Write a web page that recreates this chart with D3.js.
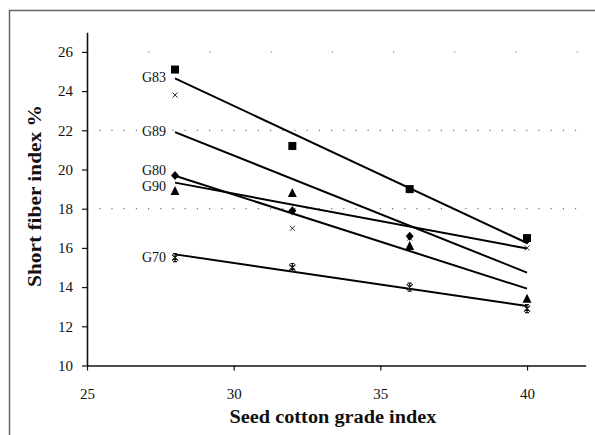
<!DOCTYPE html>
<html><head><meta charset="utf-8">
<script src="https://cdn.jsdelivr.net/npm/d3@7"></script>
<style>
html,body{margin:0;padding:0;background:#fff;}
svg{display:block;}
svg text{font-family:"Liberation Serif","Times New Roman",Tinos,serif !important;}
</style></head>
<body>
<svg id="chart" width="595" height="435"></svg>
<script>
// ---- data ----
const xValues = [28, 32, 36, 40];
const seriesNames = ["G83", "G89", "G80", "G90", "G70"];
const g83 = [25.1, 21.2, 19.0, 16.5];
const g89 = [23.8, 17.0, 16.5, 16.0];
const g80 = [18.9, 18.8, 16.1, 13.4];
const g90 = [19.7, 17.9, 16.6, 16.4];
const g70 = [15.5, 15.0, 14.0, 12.9];
const xTicks = [25, 30, 35, 40];
const yTicks = [10, 12, 14, 16, 18, 20, 22, 24, 26];
const xTitle = "Seed cotton grade index";
const yTitle = "Short fiber index %";

const seriesValues = [g83, g89, g80, g90, g70];
const markerTypes = ["square", "cross", "triangle", "diamond", "star"];
const labelDy = [4, 4, -1, 8, 8];

const svg = d3.select("#chart");

// outer frame
svg.append("path").attr("d", "M9.5,436 L9.5,10.5 L596,10.5")
  .attr("fill", "none").attr("stroke", "#666").attr("stroke-width", 1.5);

const x = d3.scaleLinear().domain([25, 42]).range([87, 585.7]);
const y = d3.scaleLinear().domain([10, 27]).range([365.5, 32.3]);

// faint dotted gridlines
[18, 22].forEach(v => {
  svg.append("line").attr("x1", x(25)).attr("x2", x(42)).attr("y1", y(v)).attr("y2", y(v))
    .attr("stroke", "#555").attr("stroke-width", 1).attr("stroke-dasharray", "1.2,11");
});
svg.append("line").attr("x1", x(25)).attr("x2", x(42)).attr("y1", y(26)).attr("y2", y(26))
  .attr("stroke", "#777").attr("stroke-width", 1).attr("stroke-dasharray", "1.2,60");

// axes
const xAxis = svg.append("g").attr("transform", `translate(0,${y(10)})`)
  .call(d3.axisBottom(x).tickValues(xTicks).tickSize(5).tickPadding(18).tickSizeOuter(0));
const yAxis = svg.append("g").attr("transform", `translate(${x(25)},0)`)
  .call(d3.axisLeft(y).tickValues(yTicks).tickSize(5).tickPadding(9).tickSizeOuter(0));
[xAxis, yAxis].forEach(a => {
  a.attr("font-family", null);
  a.select(".domain").attr("stroke", "#111").attr("stroke-width", 1.6);
  a.selectAll(".tick line").attr("stroke", "#111").attr("stroke-width", 1.2);
  a.selectAll(".tick text").attr("font-size", 15).attr("fill", "#111");
});

// axis titles
svg.append("text").attr("x", 333).attr("y", 423).attr("text-anchor", "middle")
  .attr("font-size", 18).attr("font-weight", "bold").attr("fill", "#111")
  .attr("textLength", 207).attr("lengthAdjust", "spacingAndGlyphs").text(xTitle);
svg.append("text").attr("transform", "translate(41,196) rotate(-90)").attr("text-anchor", "middle")
  .attr("font-size", 18).attr("font-weight", "bold").attr("fill", "#111")
  .attr("textLength", 182).attr("lengthAdjust", "spacingAndGlyphs").text(yTitle);

// linear regression helper
function fit(vals) {
  const mx = d3.mean(xValues), my = d3.mean(vals);
  const sxy = d3.sum(xValues, (xv, i) => (xv - mx) * (vals[i] - my));
  const sxx = d3.sum(xValues, xv => (xv - mx) ** 2);
  const b = sxy / sxx;
  return xv => my + b * (xv - mx);
}

const x0 = d3.min(xValues), x1 = d3.max(xValues);
const line = d3.line().x(d => x(d[0])).y(d => y(d[1]));

seriesValues.forEach((vals, si) => {
  const f = fit(vals);
  svg.append("path").datum([[x0, f(x0)], [x1, f(x1)]]).attr("d", line)
    .attr("fill", "none").attr("stroke", "#000").attr("stroke-width", 2);
  svg.append("text").attr("x", x(x0) - 9).attr("y", y(f(x0)) + labelDy[si])
    .attr("text-anchor", "end").attr("font-size", 14).attr("fill", "#111")
    .text(seriesNames[si]);
});

// markers
seriesValues.forEach((vals, si) => {
  const type = markerTypes[si];
  vals.forEach((v, i) => {
    const cx = x(xValues[i]), cy = y(v);
    const g = svg.append("g").attr("transform", `translate(${cx},${cy})`);
    if (type === "square") {
      g.append("rect").attr("x", -4).attr("y", -4).attr("width", 8).attr("height", 8).attr("fill", "#000");
    } else if (type === "triangle") {
      g.append("path").attr("d", "M0,-5 L4.5,4 L-4.5,4Z").attr("fill", "#000");
    } else if (type === "diamond") {
      g.append("path").attr("d", "M0,-4.5 L4,0 L0,4.5 L-4,0Z").attr("fill", "#000");
    } else if (type === "cross") {
      g.append("path").attr("d", "M-2.5,-2.5 L2.5,2.5 M-2.5,2.5 L2.5,-2.5")
        .attr("stroke", "#333").attr("stroke-width", 1);
    } else if (type === "star") {
      g.append("path").attr("d", "M-3,-3 L3,3 M-3,3 L3,-3 M0,-4 L0,4 M-2,-4 L2,-4 M-2,4 L2,4")
        .attr("stroke", "#111").attr("stroke-width", 1.2);
    }
  });
});
</script>
</body></html>
